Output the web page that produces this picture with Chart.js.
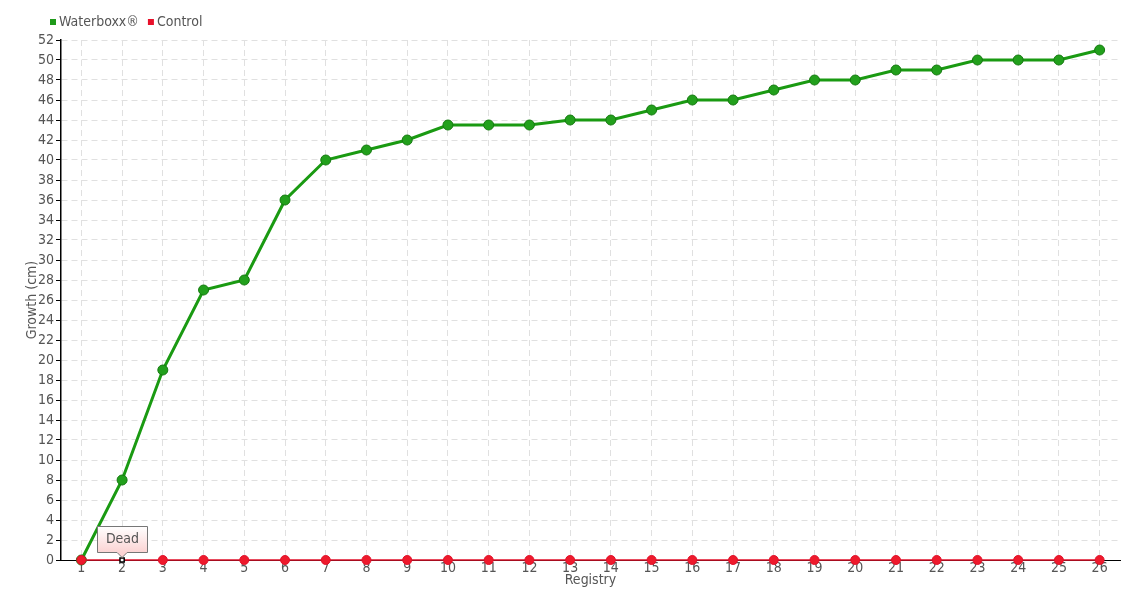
<!DOCTYPE html>
<html><head><meta charset="utf-8">
<script src="https://cdn.jsdelivr.net/npm/chart.js@4/dist/chart.umd.min.js"></script>
<style>html,body{margin:0;padding:0;background:#fff;}#wrap{width:1140px;height:600px;}</style>
</head><body><div id="wrap"><canvas id="c" width="1140" height="600"></canvas></div>
<script>
const categories = ['1','2','3','4','5','6','7','8','9','10','11','12','13','14','15','16','17','18','19','20','21','22','23','24','25','26'];
const waterboxx = [0,8,19,27,28,36,40,41,42,43.5,43.5,43.5,44,44,45,46,46,47,48,48,49,49,50,50,50,51];
const control = [0,0,0,0,0,0,0,0,0,0,0,0,0,0,0,0,0,0,0,0,0,0,0,0,0,0];
const annotations = [{index:1, text:'Dead'}];

const FONT = '"DejaVu Sans Condensed", "Liberation Sans Narrow", sans-serif';

const deadPlugin = {
  id:'dead',
  afterDatasetsDraw(chart){
    const ctx = chart.ctx;
    const meta = chart.getDatasetMeta(1);
    annotations.forEach(a=>{
      const p = meta.data[a.index];
      const x = p.x, y = p.y;
      ctx.save();
      ctx.font = '14px ' + FONT;
      const w = 50, h = 26;
      const bx = Math.round(x - 25) + 0.5, by = Math.round(y - 34) + 0.5;
      const g = ctx.createLinearGradient(0,by,0,by+h);
      g.addColorStop(0,'#ffffff'); g.addColorStop(1,'#fbd3d3');
      ctx.beginPath();
      ctx.moveTo(bx,by); ctx.lineTo(bx+w,by); ctx.lineTo(bx+w,by+h);
      ctx.lineTo(x+5,by+h); ctx.lineTo(x,by+h+5); ctx.lineTo(x-5,by+h); ctx.lineTo(bx,by+h); ctx.closePath();
      ctx.fillStyle = g; ctx.fill();
      ctx.strokeStyle = '#777'; ctx.lineWidth = 1; ctx.stroke();
      ctx.fillStyle = '#555'; ctx.textAlign='center'; ctx.textBaseline='middle';
      ctx.fillText(a.text, bx+w/2, by+h/2);
      ctx.restore();
    });
  }
};

const legendPlugin = {
  id:'customLegend',
  afterDraw(chart){
    const ctx = chart.ctx;
    ctx.save();
    ctx.font = '14px ' + FONT;
    ctx.textBaseline = 'middle';
    let x = 50;
    const y = 22;
    chart.data.datasets.forEach(d=>{
      ctx.fillStyle = d.backgroundColor;
      ctx.fillRect(x, y-3, 6, 6);
      ctx.fillStyle = '#555';
      ctx.fillText(d.label, x+9, y);
      x += 9 + ctx.measureText(d.label).width + 9;
    });
    ctx.restore();
  }
};

new Chart(document.getElementById('c'), {
  type:'line',
  data:{
    labels:categories,
    datasets:[
      {label:'Waterboxx®', data:waterboxx, borderColor:'#1a9a12', backgroundColor:'#1f9a1a', clip:false, order:1,
       borderWidth:3, pointRadius:5, pointBorderColor:'#157a10', pointBorderWidth:1, pointBackgroundColor:'#22a01c', tension:0},
      {label:'Control', data:control, borderColor:'#e0102a', backgroundColor:'#e8102a', clip:false, order:0,
       borderWidth:1.5, pointRadius: control.map((v,i)=> i===1?3:4.5),
       pointStyle: control.map((v,i)=> i===1?'rect':'circle'),
       pointBackgroundColor: control.map((v,i)=> i===1?'#ffffff':'#ee1a2c'),
       pointBorderColor: control.map((v,i)=> i===1?'#000000':'#e0102a'),
       pointBorderWidth: control.map((v,i)=> i===1?1.5:1), tension:0}
    ]
  },
  options:{
    responsive:false, animation:false,
    layout:{padding:{left:24,right:20,top:40,bottom:11}},
    plugins:{
      legend:{display:false},
      tooltip:{enabled:false}
    },
    scales:{
      x:{offset:true,
        afterFit(s){ s.height = 29; },
        grid:{color:'#e0e0e0', lineWidth:1, drawTicks:false, offset:false},
        border:{display:true, color:'#000', width:1, dash:[6,4]},
        ticks:{color:'#555', font:{family:FONT,size:14}, padding:0, maxRotation:0, autoSkip:false},
        title:{display:true, text:'Registry', color:'#555', font:{family:FONT,size:14}, padding:{top:0,bottom:0}}
      },
      y:{min:0, max:52,
        afterFit(s){ s.width = 37; },
        grid:{color:'#e0e0e0', lineWidth:1, tickLength:5, drawTicks:true, tickColor:'#000', tickBorderDash:[]},
        border:{display:true, color:'#000', width:1.5, dash:[6,4]},
        ticks:{stepSize:2, color:'#555', font:{family:FONT,size:14}, padding:2},
        title:{display:true, text:'Growth (cm)', color:'#555', font:{family:FONT,size:14}, padding:{top:0,bottom:0}}
      }
    }
  },
  plugins:[deadPlugin, legendPlugin]
});
</script>
</body></html>
